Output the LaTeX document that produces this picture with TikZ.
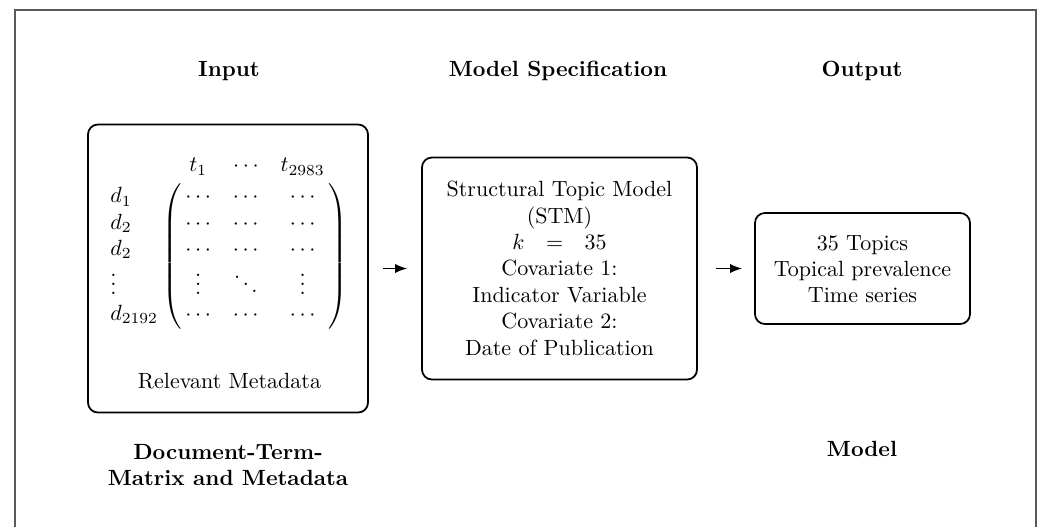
\documentclass[tikz,border=0pt]{standalone}
\usetikzlibrary{arrows.meta}
% one drawing unit
\newcommand{\pxu}{0.4545pt}
\begin{document}
\begin{tikzpicture}[x=0.4545pt,y=-0.4545pt,
  box/.style={draw, line width=0.8pt, rounded corners=4.5pt, inner sep=0pt},
  head/.style={font=\bfseries, anchor=base, inner sep=0pt},
  body/.style={anchor=base, inner sep=0pt},
  arr/.style={-{Latex[length=5.5pt,width=4.2pt]}, line width=0.6pt},
  frame/.style={draw=black!65, line width=0.7pt}]
\useasboundingbox (0,0) rectangle (1040,527);
\draw[frame] (15,527) -- (15,10) -- (1036,10) -- (1036,527);

% column headings
\node[head] (hin)   at (229,76) {Input};
\node[head] (hspec) at (558,76) {Model Specification};
\node[head] (hout)  at (862,76) {Output};

% the three stages
\node[box, minimum width=280*\pxu, minimum height=288*\pxu] (inbox)  at (228,268.5) {};
\node[box, minimum width=275*\pxu, minimum height=222*\pxu] (spec)   at (559.5,268.5) {};
\node[box, minimum width=215*\pxu, minimum height=111*\pxu] (outbox) at (862.5,268.5) {};

% document-term matrix
\node[inner sep=0pt] (dtm) at (226,241) {$\bordermatrix{
      & t_1    & \cdots & t_{2983}\cr
  d_1 & \cdots & \cdots & \cdots\cr
  d_2 & \cdots & \cdots & \cdots\cr
  d_2 & \cdots & \cdots & \cdots\cr
  \vdots & \vdots & \ddots & \vdots\cr
  d_{2192} & \cdots & \cdots & \cdots\cr}$};
\node[body] (meta) at (229.5,388) {Relevant Metadata};

% model specification
\node[body] (spectext) at (559.5,196.7) {\begin{tabular}[t]{@{}c@{}}
  Structural Topic Model\\
  (STM)\\
  $k\hspace{7pt}=\hspace{7pt}35$\\
  Covariate 1:\\
  Indicator Variable\\
  Covariate 2:\\
  Date of Publication
\end{tabular}};

% output
\node[body] (outtext) at (862.5,250) {\begin{tabular}[t]{@{}c@{}}
  35 Topics\\
  Topical prevalence\\
  Time series
\end{tabular}};

% captions below
\node[head] (cin)  at (228,459) {\begin{tabular}[t]{@{}c@{}}Document-Term-\\Matrix and Metadata\end{tabular}};
\node[head] (cout) at (862,456) {Model};

% flow
\draw[arr, shorten <=14*\pxu, shorten >=14*\pxu] (inbox) -- (spec);
\draw[arr, shorten <=18*\pxu, shorten >=12*\pxu] (spec) -- (outbox);
\end{tikzpicture}
\end{document}
